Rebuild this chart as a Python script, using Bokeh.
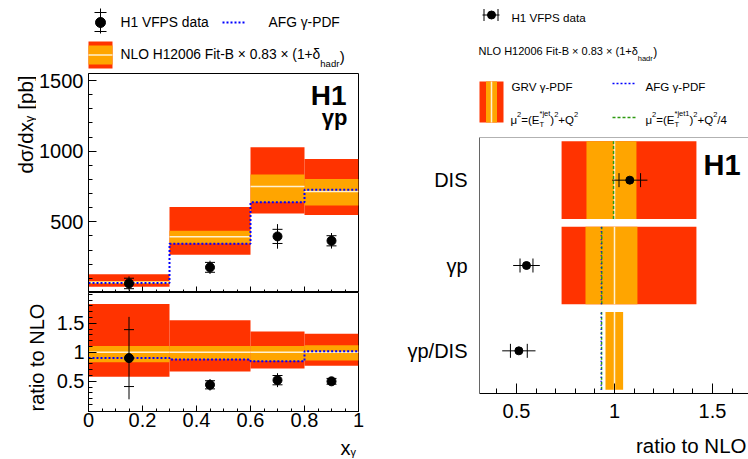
import math
from bokeh.plotting import figure
from bokeh.models import Range1d, FixedTicker, Label, Span
from bokeh.layouts import row, column
from bokeh.embed import file_html
from bokeh.resources import INLINE

FONT = "Liberation Sans"
RED = "#ff3300"
ORANGE = "#ffa500"
CLINE = "#fff1d2"
BLUE = "#0000ff"
GREEN = "#2e9a10"

# ---------------- data: left, d sigma / d x_gamma (gamma p) ----------------
bin_lo = [0.0, 0.3, 0.6, 0.8]
bin_hi = [0.3, 0.6, 0.8, 1.0]
x_data = [0.15, 0.45, 0.70, 0.90]
xs_data = [64, 178, 397, 366]
xs_stat = [37, 35, 50, 36]
xs_tot = [50, 47, 87, 55]
nlo_central = [73, 394, 751, 714]
nlo_scale_lo = [61, 347, 639, 615]
nlo_scale_hi = [81, 437, 836, 803]
nlo_tot_lo = [40, 268, 559, 549]
nlo_tot_hi = [130, 605, 1028, 944]
afg_xs = [68, 345, 639, 728]

ratio_data = [0.90, 0.44, 0.52, 0.50]
ratio_stat = [0.49, 0.07, 0.08, 0.05]
ratio_tot = [0.71, 0.10, 0.12, 0.07]
ratio_central = [1.0, 1.0, 1.0, 1.0]
ratio_scale_lo = [0.83, 0.88, 0.85, 0.86]
ratio_scale_hi = [1.11, 1.11, 1.11, 1.12]
ratio_tot_lo = [0.58, 0.67, 0.72, 0.77]
ratio_tot_hi = [1.83, 1.55, 1.36, 1.32]
ratio_afg = [0.90, 0.875, 0.845, 1.02]

xg_ticks = [0.0, 0.2, 0.4, 0.6, 0.8, 1.0]
xg_labels = ["0", "0.2", "0.4", "0.6", "0.8", "1"]
xs_ticks = [500, 1000, 1500]
xs_labels = ["500", "1000", "1500"]
r_ticks = [0.5, 1.0, 1.5]
r_labels = ["0.5", "1", "1.5"]

# ---------------- data: right, ratio to NLO per sample ----------------
samples = ["DIS", "γp", "γp/DIS"]
s_pos = [2.5, 1.5, 0.5]
s_data = [1.078, 0.551, 0.512]
s_stat = [0.055, 0.033, 0.043]
s_tot = [0.090, 0.068, 0.085]
s_central = [1.0, 1.0, 1.0]
s_scale_lo = [0.857, 0.852, 0.954]
s_scale_hi = [1.112, 1.117, 1.044]
red_samples = ["DIS", "γp"]
red_pos = [2.5, 1.5]
s_tot_lo = [0.730, 0.730]
s_tot_hi = [1.418, 1.418]
afg_samples = ["γp", "γp/DIS"]
afg_pos = [1.5, 0.5]
s_afg = [0.933, 0.932]
s_mu = [0.995, 0.935, 0.934]

# ---------------- helpers ----------------
W = {' ': 278, '(': 333, ')': 333, '*': 389, '+': 584, '-': 333, '.': 278, '/': 278,
     '=': 584, 'A': 667, 'B': 667, 'D': 722, 'E': 667, 'F': 611, 'G': 778, 'H': 722,
     'L': 556, 'N': 722, 'O': 778, 'P': 667, 'Q': 778, 'R': 722, 'S': 667, 'T': 611,
     'V': 667, 'a': 556, 'd': 556, 'e': 556, 'h': 556, 'i': 222, 'j': 222, 'r': 333,
     't': 278, 'p': 556, 'x': 500, 'μ': 576, 'γ': 500, 'δ': 556, 'σ': 617, '×': 584}
MID = 0.3465  # distance from baseline to the middle of the text box, in em


def tw(s, size):
    return sum(W.get(c, 556) for c in s) / 1000.0 * size


def label(fig, x, y, s, size, align="left", bold=False, angle=0.0):
    fig.add_layout(Label(x=x, y=y, text=s, text_font=FONT, text_font_size=f"{size}px",
                         text_align=align, text_baseline="middle", angle=angle,
                         text_font_style="bold" if bold else "normal", text_color="black"))


def rich(fig, x, y, parts):
    for t, size, dy, adv in parts:
        label(fig, x, y + dy, t, size)
        if adv:
            x += tw(t, size)
    return x


def no_align(p):
    try:
        p.frame_align = False
    except Exception:
        pass


def mkfig(w, h, xr, yr, **kw):
    p = figure(width=w, height=h, x_range=xr, y_range=yr, output_backend="svg",
               toolbar_location=None, title=None, **kw)
    p.min_border = 0
    p.background_fill_color = "white"
    p.border_fill_color = "white"
    p.grid.visible = False
    no_align(p)
    return p


def pixfig(x0, y0, w, h):
    """A blank canvas whose data coordinates are the page pixels (y downwards)."""
    p = mkfig(w, h, Range1d(x0, x0 + w), Range1d(y0 + h, y0), x_axis_type=None, y_axis_type=None)
    p.outline_line_color = None
    return p


def style_axis(ax, size="20px"):
    ax.axis_line_color = "black"
    ax.major_tick_line_color = "black"
    ax.minor_tick_line_color = "black"
    ax.major_label_text_font = FONT
    ax.major_label_text_font_size = size
    ax.major_label_text_color = "black"
    ax.major_tick_out = 0
    ax.minor_tick_out = 0


def data_markers(p, x, y, stat, tot, vertical=True, tick=10, size=9):
    lo_t = [a - b for a, b in zip(y, tot)]
    hi_t = [a + b for a, b in zip(y, tot)]
    lo_s = [a - b for a, b in zip(y, stat)]
    hi_s = [a + b for a, b in zip(y, stat)]
    if vertical:
        p.segment(x0=x, x1=x, y0=lo_t, y1=hi_t, line_color="black", line_width=1)
        p.scatter(x=x + x, y=lo_s + hi_s, marker="dash", size=tick, line_color="black", line_width=1)
        p.scatter(x=x, y=y, marker="circle", size=size, fill_color="black", line_color="black")
    else:
        p.segment(x0=lo_t, x1=hi_t, y0=x, y1=x, line_color="black", line_width=1)
        p.scatter(x=lo_s + hi_s, y=x + x, marker="dash", angle=math.pi / 2, size=tick,
                  line_color="black", line_width=1)
        p.scatter(x=y, y=x, marker="circle", size=size, fill_color="black", line_color="black")


# ================= LEFT COLUMN =================
legL = pixfig(0, 0, 388, 69)
legL.segment(x0=[100], x1=[100], y0=[8], y1=[33], line_color="black")
legL.scatter(x=[100, 100], y=[12, 31], marker="dash", size=12, line_color="black")
legL.scatter(x=[100], y=[22], marker="circle", size=10, fill_color="black", line_color="black")
label(legL, 120, 22, "H1 VFPS data", 13.8)
legL.segment(x0=[222], x1=[244], y0=[22], y1=[22], line_color=BLUE, line_width=2, line_dash="2 2")
label(legL, 268, 22, "AFG γ-PDF", 13.8)
legL.quad(left=[88], right=[112], top=[41], bottom=[68], fill_color=RED, line_color=None)
legL.quad(left=[88], right=[112], top=[45], bottom=[64], fill_color=ORANGE, line_color=None)
legL.segment(x0=[88], x1=[112], y0=[54.5], y1=[54.5], line_color=CLINE, line_width=1.5)
nlo_txt = "NLO H12006 Fit-B × 0.83 × (1+δ"
xe = rich(legL, 120, 54, [(nlo_txt, 13.8, 0, True), ("hadr", 9.5, 8.5, True)])
label(legL, xe + 0.5, 55.5, ")", 15)

# y title strip of the top panel (rotated text, baseline at x = 32)
stripT = pixfig(0, 69, 36, 223)
TS = 20.5
label(stripT, 32 - MID * TS, 173, "dσ/dx", TS, align="left", angle=math.pi / 2)
label(stripT, 29, 173 - tw("dσ/dx", TS), "γ", 12.5, align="left", angle=math.pi / 2)
label(stripT, 32 - MID * TS, 75, "[pb]", TS, align="right", angle=math.pi / 2)

# top panel: cross section (frame from y = 73 to 292)
topL = mkfig(352, 223, Range1d(0, 1), Range1d(0, 1550))
topL.min_border_left = 52
topL.min_border_right = 30
topL.min_border_top = 4
topL.outline_line_color = "black"
topL.quad(left=bin_lo, right=bin_hi, bottom=nlo_tot_lo, top=nlo_tot_hi, fill_color=RED, line_color=None)
topL.quad(left=bin_lo, right=bin_hi, bottom=nlo_scale_lo, top=nlo_scale_hi, fill_color=ORANGE, line_color=None)
topL.segment(x0=bin_lo, x1=bin_hi, y0=nlo_central, y1=nlo_central, line_color=CLINE, line_width=1.5)
topL.step(x=bin_lo + [bin_hi[-1]], y=afg_xs + [afg_xs[-1]], mode="after",
          line_color=BLUE, line_width=2, line_dash="2 2")
data_markers(topL, x_data, xs_data, xs_stat, xs_tot, tick=10, size=9)

ya = topL.yaxis[0]
style_axis(ya)
ya.ticker = FixedTicker(ticks=xs_ticks, minor_ticks=list(range(100, 1600, 100)))
ya.major_label_overrides = dict(zip(xs_ticks, xs_labels))
ya.major_tick_in = 8
ya.minor_tick_in = 4
ya.major_label_standoff = 5
xa = topL.xaxis[0]
style_axis(xa)
xa.major_label_text_color = None
xa.ticker = FixedTicker(ticks=xg_ticks, minor_ticks=[i * 0.05 for i in range(21)])
xa.major_tick_in = 6
xa.minor_tick_in = 3
xa.major_label_standoff = 0


def tl(X, Y):
    return (X - 88) / 270.0, (292 - Y) / 219.0 * 1550


label(topL, *tl(346, 105 - MID * 28), "H1", 28, align="right", bold=True)
label(topL, *tl(347, 125 - MID * 22), "γp", 22, align="right", bold=True)

# y title strip of the ratio panel (baseline at x = 43)
stripR = pixfig(0, 292, 48, 143)
label(stripR, 43 - MID * 20, 357, "ratio to NLO", 20, align="center", angle=math.pi / 2)

# ratio panel
ratL = mkfig(340, 143, Range1d(0, 1), Range1d(-0.02, 2.03))
ratL.min_border_left = 40
ratL.min_border_right = 30
ratL.min_border_bottom = 24
ratL.outline_line_color = "black"
ratL.quad(left=bin_lo, right=bin_hi, bottom=ratio_tot_lo, top=ratio_tot_hi, fill_color=RED, line_color=None)
ratL.quad(left=bin_lo, right=bin_hi, bottom=ratio_scale_lo, top=ratio_scale_hi, fill_color=ORANGE, line_color=None)
ratL.segment(x0=bin_lo, x1=bin_hi, y0=ratio_central, y1=ratio_central, line_color=CLINE, line_width=1.5)
ratL.step(x=bin_lo + [bin_hi[-1]], y=ratio_afg + [ratio_afg[-1]], mode="after",
          line_color=BLUE, line_width=2, line_dash="2 2")
data_markers(ratL, x_data, ratio_data, ratio_stat, ratio_tot, tick=10, size=9)

ya = ratL.yaxis[0]
style_axis(ya)
ya.ticker = FixedTicker(ticks=r_ticks, minor_ticks=[round(i * 0.1, 1) for i in range(1, 21)])
ya.major_label_overrides = dict(zip(r_ticks, r_labels))
ya.major_tick_in = 8
ya.minor_tick_in = 4
ya.major_label_standoff = 4
xa = ratL.xaxis[0]
style_axis(xa)
xa.ticker = FixedTicker(ticks=xg_ticks, minor_ticks=[i * 0.05 for i in range(21)])
xa.major_label_overrides = dict(zip(xg_ticks, xg_labels))
xa.major_tick_in = 6
xa.minor_tick_in = 3
xa.major_label_standoff = 1

# x title strip
stripBL = pixfig(0, 435, 388, 24)
label(stripBL, 340, 447, "x", 20, align="left")
label(stripBL, 340 + tw("x", 20), 451, "γ", 11, align="left")

# ================= RIGHT COLUMN =================
legR = pixfig(388, 0, 360, 137)
legR.segment(x0=[482], x1=[499], y0=[14.5], y1=[14.5], line_color="black")
legR.scatter(x=[483.5, 497.5], y=[14.5, 14.5], marker="dash", angle=math.pi / 2, size=12, line_color="black")
legR.scatter(x=[491], y=[14.5], marker="circle", size=8, fill_color="black", line_color="black")
label(legR, 511, 17, "H1 VFPS data", 11.6)
xe = rich(legR, 478, 50, [(nlo_txt, 11, 0, True), ("hadr", 7.5, 8, True)])
label(legR, xe + 0.5, 51, ")", 12)
legR.quad(left=[479], right=[503], top=[81], bottom=[122], fill_color=RED, line_color=None)
legR.quad(left=[485.5], right=[496.5], top=[81], bottom=[122], fill_color=ORANGE, line_color=None)
legR.segment(x0=[491], x1=[491], y0=[81], y1=[122], line_color=CLINE, line_width=1.5)
label(legR, 511, 86, "GRV γ-PDF", 11.6)
legR.segment(x0=[612], x1=[635], y0=[83], y1=[83], line_color=BLUE, line_width=1.5, line_dash="2 2")
label(legR, 645, 86, "AFG γ-PDF", 11.6)
f1 = [("μ", 11.5, 0, True), ("2", 7.5, -5, True), ("=(E", 11.5, 0, True), ("T", 7.5, 5, False),
      ("*jet", 7.5, -6, True), (")", 11.5, 0, True), ("2", 7.5, -5, True), ("+Q", 11.5, 0, True),
      ("2", 7.5, -5, True)]
rich(legR, 510, 119, f1)
legR.segment(x0=[612], x1=[635], y0=[117], y1=[117], line_color=GREEN, line_width=1.5, line_dash="3 2")
f2 = [("μ", 11.5, 0, True), ("2", 7.5, -5, True), ("=(E", 11.5, 0, True), ("T", 7.5, 5, False),
      ("*jet1", 7.5, -6, True), (")", 11.5, 0, True), ("2", 7.5, -5, True), ("+Q", 11.5, 0, True),
      ("2", 7.5, -5, True), ("/4", 11.5, 0, True)]
rich(legR, 645, 119, f2)

XR0 = 0.5 - (516 - 479) / 196.0
XR1 = XR0 + 269 / 196.0
mainR = mkfig(360, 289, Range1d(XR0, XR1), Range1d(0, 3))
mainR.min_border_left = 91
mainR.min_border_bottom = 33
mainR.outline_line_color = None
BH = 0.91
mainR.hbar(y=red_pos, left=s_tot_lo, right=s_tot_hi, height=BH, fill_color=RED, line_color=None)
mainR.hbar(y=s_pos, left=s_scale_lo, right=s_scale_hi, height=BH, fill_color=ORANGE, line_color=None)
y0s = [v - BH / 2 for v in s_pos]
y1s = [v + BH / 2 for v in s_pos]
mainR.segment(x0=s_central, x1=s_central, y0=y0s, y1=y1s, line_color=CLINE, line_width=1.5)
mainR.segment(x0=s_mu, x1=s_mu, y0=y0s, y1=y1s, line_color=GREEN, line_width=1.5, line_dash="3 2")
mainR.segment(x0=s_afg, x1=s_afg, y0=[v - BH / 2 for v in afg_pos], y1=[v + BH / 2 for v in afg_pos],
              line_color=BLUE, line_width=1.5, line_dash="1 3")
data_markers(mainR, s_pos, s_data, s_stat, s_tot, vertical=False, tick=14, size=8)
mainR.add_layout(Span(location=3, dimension="width", line_color="#666666", line_width=1))

xa = mainR.xaxis[0]
style_axis(xa)
xa.ticker = FixedTicker(ticks=r_ticks, minor_ticks=[round(0.4 + i * 0.1, 1) for i in range(13)])
xa.major_label_overrides = dict(zip(r_ticks, r_labels))
xa.major_tick_in = 10
xa.minor_tick_in = 5
xa.major_label_standoff = 10
ya = mainR.yaxis[0]
style_axis(ya)
ya.axis_line_color = "#666666"
ya.ticker = FixedTicker(ticks=s_pos, minor_ticks=[])
ya.major_label_overrides = dict(zip(s_pos, samples))
ya.major_tick_in = 0
ya.major_tick_line_color = None
ya.major_label_standoff = 12


def mr(X, Y):
    return XR0 + (X - 479) / 196.0, (393 - Y) / 256.0 * 3


label(mainR, *mr(703, 175 - MID * 29), "H1", 29, align="left", bold=True)

stripBR = pixfig(388, 426, 360, 33)
label(stripBR, 746, 452 - MID * 20.5, "ratio to NLO", 20.5, align="right")

left = column(legL, row(stripT, topL), row(stripR, ratL), stripBL)
right = column(legR, mainR, stripBR)
layout = row(left, right)
open("out.html", "w").write(file_html(layout, INLINE))
